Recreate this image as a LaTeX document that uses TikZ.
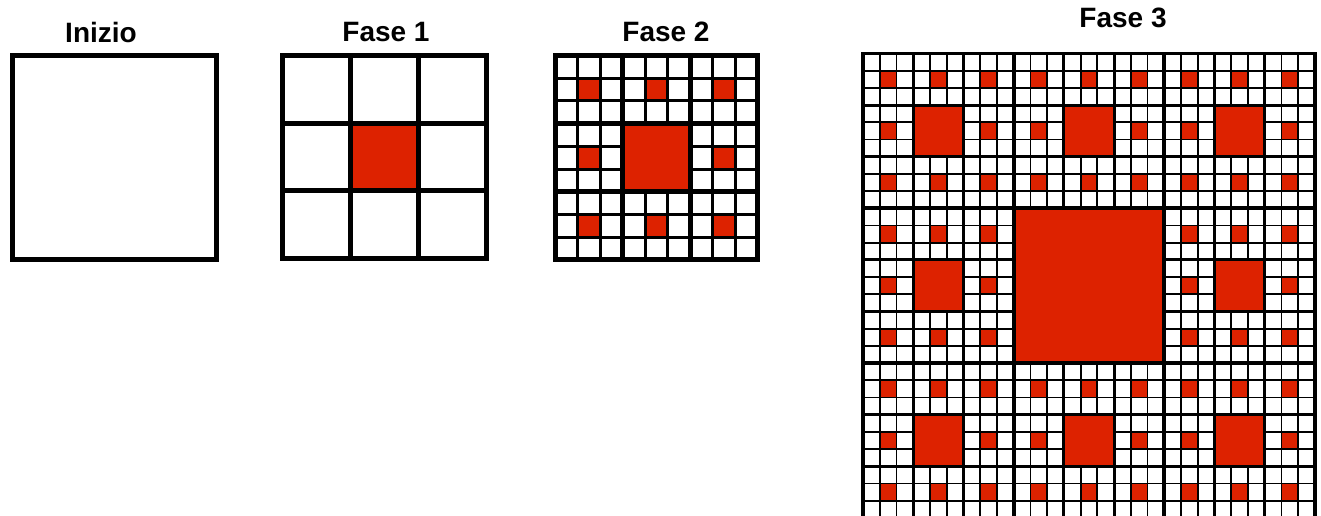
\documentclass[tikz,border=0pt]{standalone}
\usepackage{fontspec}
\setmainfont{Liberation Sans}
\definecolor{carpetred}{RGB}{221,34,0}

\begin{document}
\begin{tikzpicture}[x=0.5pt, y=-0.5pt,
  title/.style={font=\fontsize{14}{16}\selectfont\bfseries, inner sep=0pt},
  hole/.style={fill=carpetred, draw=black},
  frame/.style={draw=black, line width=2.5pt}]
  \useasboundingbox (0,0) rectangle (1321,515);
  % Inizio
  \node[title] (inizio) at (101,32) {Inizio};
  \draw[frame] (12,55.5) rectangle (216,259.5);
  % Fase 1
  \node[title] (fase1) at (386,32) {Fase 1};
  \begin{scope}[shift={(282.5,55.5)}, x=33.92pt, y=-33.75pt]
    \fill[carpetred] (1,1) rectangle (2,2);
    \foreach \i in {1,2} {
      \draw[line width=2.5pt] (\i,0) -- (\i,3);
      \draw[line width=2.5pt] (0,\i) -- (3,\i);
    }
    \draw[frame] (0,0) rectangle (3,3);
  \end{scope}
  % Fase 2
  \node[title] (fase2) at (666,32) {Fase 2};
  \begin{scope}[shift={(555.5,55.5)}, x=11.22pt, y=-11.36pt]
    \foreach \i in {1,...,8} {
      \draw[line width=1.5pt] (\i,0) -- (\i,9);
      \draw[line width=1.5pt] (0,\i) -- (9,\i);
    }
    \foreach \a in {1,4,7}
      \foreach \b in {1,4,7}
        \draw[hole, line width=1.5pt] (\a,\b) rectangle ++(1,1);
    \foreach \i in {3,6} {
      \draw[line width=2.5pt] (\i,0) -- (\i,9);
      \draw[line width=2.5pt] (0,\i) -- (9,\i);
    }
    \draw[hole, line width=2.5pt] (3,3) rectangle (6,6);
    \draw[frame] (0,0) rectangle (9,9);
  \end{scope}
  % Fase 3
  \node[title] (fase3) at (1123,18) {Fase 3};
  \begin{scope}[shift={(863,53.5)}, x=8.37pt, y=-8.6pt]
    \foreach \i in {1,...,26} {
      \draw[line width=0.9pt] (\i,0) -- (\i,27);
      \draw[line width=0.9pt] (0,\i) -- (27,\i);
    }
    \foreach \a in {1,4,...,25}
      \foreach \b in {1,4,...,25}
        \draw[hole, line width=0.9pt] (\a,\b) rectangle ++(1,1);
    \foreach \i in {3,6,12,15,21,24} {
      \draw[line width=1.5pt] (\i,0) -- (\i,27);
      \draw[line width=1.5pt] (0,\i) -- (27,\i);
    }
    \foreach \a in {3,12,21}
      \foreach \b in {3,12,21}
        \draw[hole, line width=1.5pt] (\a,\b) rectangle ++(3,3);
    \foreach \i in {9,18} {
      \draw[line width=2pt] (\i,0) -- (\i,27);
      \draw[line width=2pt] (0,\i) -- (27,\i);
    }
    \draw[hole, line width=2pt] (9,9) rectangle (18,18);
    \draw[frame, line width=1.75pt] (0,0) rectangle (27,27);
  \end{scope}
\end{tikzpicture}
\end{document}
